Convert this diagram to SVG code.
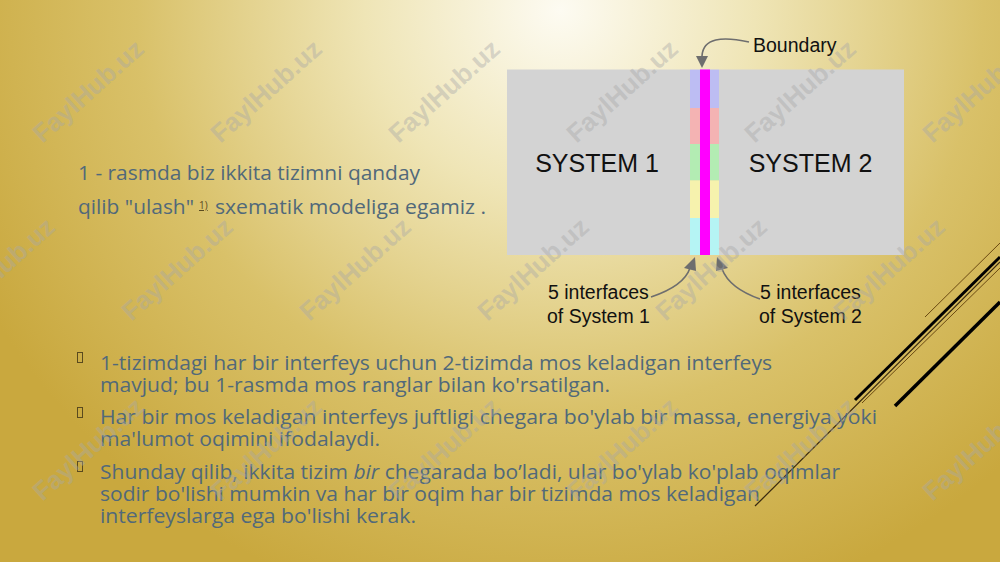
<svg xmlns="http://www.w3.org/2000/svg" width="1000" height="562" viewBox="0 0 1000 562">
<defs>
<radialGradient id="bg" cx="560" cy="10" r="620" gradientUnits="userSpaceOnUse" gradientTransform="translate(560 10) scale(1.05 1) translate(-560 -10)">
<stop offset="0" stop-color="#fdfbf2"/>
<stop offset="0.3" stop-color="#efe5b6"/>
<stop offset="0.65" stop-color="#d9c169"/>
<stop offset="1" stop-color="#c9a83e"/>
</radialGradient>
<marker id="ah" viewBox="0 0 10 10" refX="9" refY="5" markerWidth="12" markerHeight="12" markerUnits="userSpaceOnUse" orient="auto">
<path d="M0,0 L10,5 L0,10 z" fill="#6e6e6e"/>
</marker>
<style>
.body{font-family:"Open Sans","Noto Sans",sans-serif;fill:#51697a;}
.dg{font-family:"Liberation Sans",Arial,sans-serif;fill:#111;}
.bul{fill:none;stroke:#5a4a1e;stroke-width:1;}
.wm{font-family:"Liberation Sans",Arial,sans-serif;font-weight:bold;font-size:26px;fill:#a8a8a8;fill-opacity:0.42;}
.conn{fill:none;stroke:#6e6e6e;stroke-width:1.6;}
</style>
</defs>
<rect x="0" y="0" width="1000" height="562" fill="url(#bg)"/>

<g id="deco-lines">
<line x1="925" y1="317" x2="1000" y2="243" stroke="#6b4a12" stroke-width="1"/>
<line x1="855" y1="400" x2="1000" y2="257" stroke="#000" stroke-width="3"/>
<line x1="755" y1="506" x2="1000" y2="262" stroke="#3a2a10" stroke-width="1.2"/>
<line x1="862" y1="403" x2="1000" y2="268" stroke="#6b4a12" stroke-width="1"/>
<line x1="895" y1="406" x2="1000" y2="302" stroke="#000" stroke-width="3.5"/>
</g>

<g id="intro-text" class="body" font-size="19.5">
<text x="78" y="180" textLength="342" lengthAdjust="spacingAndGlyphs">1 - rasmda biz ikkita tizimni qanday</text>
<text x="78" y="214" textLength="116" lengthAdjust="spacingAndGlyphs">qilib "ulash"</text>
<text x="199" y="209" font-size="10" fill="#5a4a20" style="fill:#5a4a20" text-decoration="underline">1)</text>
<text x="215" y="214" textLength="271" lengthAdjust="spacingAndGlyphs">sxematik modeliga egamiz .</text>
</g>

<g id="bullets">
<rect class="bul" x="77.5" y="352.5" width="5" height="10"/>
<rect class="bul" x="77.5" y="407.5" width="5" height="10"/>
<rect class="bul" x="77.5" y="461.5" width="5" height="10"/>
<g class="body" font-size="20">
<text x="100" y="370" textLength="672" lengthAdjust="spacingAndGlyphs">1-tizimdagi har bir interfeys uchun 2-tizimda mos keladigan interfeys</text>
<text x="100" y="392" textLength="510" lengthAdjust="spacingAndGlyphs">mavjud; bu 1-rasmda mos ranglar bilan ko'rsatilgan.</text>
<text x="100" y="424" textLength="777" lengthAdjust="spacingAndGlyphs">Har bir mos keladigan interfeys juftligi chegara bo'ylab bir massa, energiya yoki</text>
<text x="100" y="446" textLength="280" lengthAdjust="spacingAndGlyphs">ma'lumot oqimini ifodalaydi.</text>
<text x="100" y="479" textLength="740" lengthAdjust="spacingAndGlyphs">Shunday qilib, ikkita tizim <tspan font-style="italic">bir</tspan> chegarada bo’ladi, ular bo'ylab ko'plab oqimlar</text>
<text x="100" y="501" textLength="660" lengthAdjust="spacingAndGlyphs">sodir bo'lishi mumkin va har bir oqim har bir tizimda mos keladigan</text>
<text x="100" y="523" textLength="316" lengthAdjust="spacingAndGlyphs">interfeyslarga ega bo'lishi kerak.</text>
</g>
</g>

<g id="system1">
<rect x="507" y="69.5" width="183" height="185.5" fill="#d3d3d3"/>
<text class="dg" x="597" y="172" font-size="25" text-anchor="middle">SYSTEM 1</text>
</g>
<g id="system2">
<rect x="719" y="69.5" width="185" height="185.5" fill="#d3d3d3"/>
<text class="dg" x="810.5" y="172" font-size="25" text-anchor="middle">SYSTEM 2</text>
</g>
<g id="boundary">
<rect x="690" y="69.5" width="29" height="38.5" fill="#bdbdf3"/>
<rect x="690" y="108" width="29" height="36" fill="#f4b3b3"/>
<rect x="690" y="144" width="29" height="36.5" fill="#b3ecb3"/>
<rect x="690" y="180.5" width="29" height="37.5" fill="#f6f2ad"/>
<rect x="690" y="218" width="29" height="37" fill="#b5f4f4"/>
<rect x="700" y="69.5" width="10" height="185.5" fill="#ff00ff"/>
</g>
<g id="labels" class="dg" font-size="19.5">
<text x="753" y="52">Boundary</text>
<text x="548" y="299">5 interfaces</text>
<text x="547" y="323">of System 1</text>
<text x="760" y="299">5 interfaces</text>
<text x="759" y="323">of System 2</text>
</g>
<g id="connectors">
<path class="conn" d="M749,42 C722,36 703,38 702,56" />
<path d="M696,56 L708,56 L702,68 z" fill="#6e6e6e"/>
<path class="conn" d="M651,297 C672,290 686,280 690,268" />
<path d="M684,268 L696,271 L695,257 z" fill="#6e6e6e"/>
<path class="conn" d="M760,299 C740,292 727,282 722,269" />
<path d="M716,271 L728,268 L717,257 z" fill="#6e6e6e"/>
</g>

<g id="watermarks" class="wm">
<text transform="translate(88 91) rotate(-42)" text-anchor="middle" dy="9">FaylHub.uz</text>
<text transform="translate(266 91) rotate(-42)" text-anchor="middle" dy="9">FaylHub.uz</text>
<text transform="translate(444 91) rotate(-42)" text-anchor="middle" dy="9">FaylHub.uz</text>
<text transform="translate(622 91) rotate(-42)" text-anchor="middle" dy="9">FaylHub.uz</text>
<text transform="translate(800 91) rotate(-42)" text-anchor="middle" dy="9">FaylHub.uz</text>
<text transform="translate(978 91) rotate(-42)" text-anchor="middle" dy="9">FaylHub.uz</text>
<text transform="translate(-1 269) rotate(-42)" text-anchor="middle" dy="9">FaylHub.uz</text>
<text transform="translate(177 269) rotate(-42)" text-anchor="middle" dy="9">FaylHub.uz</text>
<text transform="translate(355 269) rotate(-42)" text-anchor="middle" dy="9">FaylHub.uz</text>
<text transform="translate(533 269) rotate(-42)" text-anchor="middle" dy="9">FaylHub.uz</text>
<text transform="translate(711 269) rotate(-42)" text-anchor="middle" dy="9">FaylHub.uz</text>
<text transform="translate(889 269) rotate(-42)" text-anchor="middle" dy="9">FaylHub.uz</text>
<text transform="translate(88 449) rotate(-42)" text-anchor="middle" dy="9">FaylHub.uz</text>
<text transform="translate(266 449) rotate(-42)" text-anchor="middle" dy="9">FaylHub.uz</text>
<text transform="translate(444 449) rotate(-42)" text-anchor="middle" dy="9">FaylHub.uz</text>
<text transform="translate(622 449) rotate(-42)" text-anchor="middle" dy="9">FaylHub.uz</text>
<text transform="translate(800 449) rotate(-42)" text-anchor="middle" dy="9">FaylHub.uz</text>
<text transform="translate(978 449) rotate(-42)" text-anchor="middle" dy="9">FaylHub.uz</text>
</g>
</svg>
